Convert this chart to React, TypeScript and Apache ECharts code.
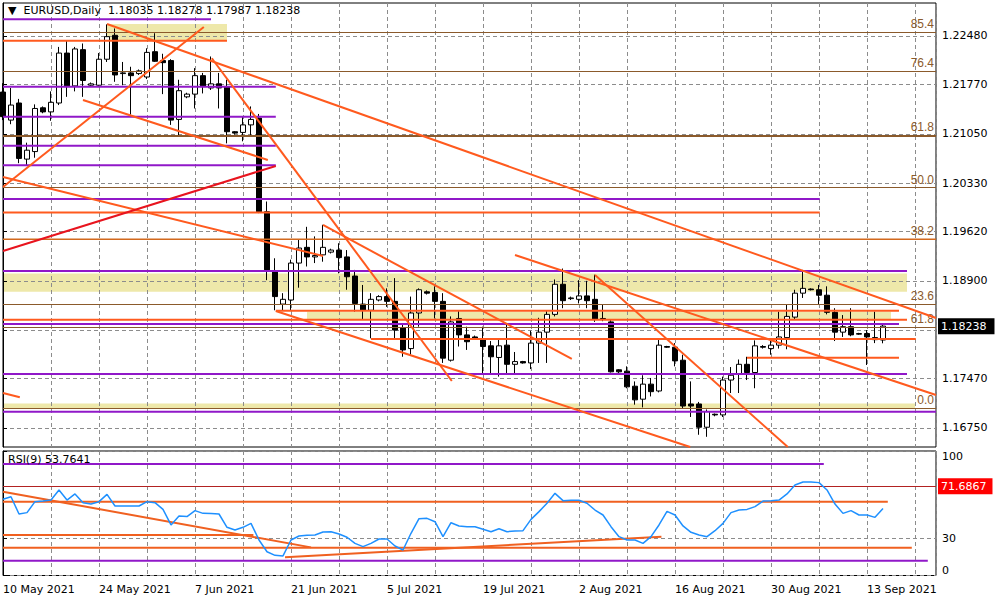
import React, { useEffect, useRef } from 'react';
import * as echarts from 'echarts';

// ---------- data (bar index 0 = 10 May 2021, six bars per week incl. Sunday) ----------
const opens = [
  1.2166, 1.2125, 1.2150, 1.2068, 1.2079, 1.2143, 1.2137, 1.2150, 1.2223, 1.2175,
  1.2228, 1.2176, 1.2176, 1.2214, 1.2249, 1.2193, 1.2194, 1.2193, 1.2188, 1.2225,
  1.2212, 1.2212, 1.2126, 1.2159, 1.2163, 1.2190, 1.2172, 1.2178, 1.2174, 1.2108,
  1.2107, 1.2118, 1.2128, 1.1991, 1.1903, 1.1856, 1.1862, 1.1916, 1.1939, 1.1925,
  1.1928, 1.1932, 1.1935, 1.1925, 1.1897, 1.1856, 1.1847, 1.1862, 1.1867, 1.1860,
  1.1821, 1.1791, 1.1843, 1.1874, 1.1873, 1.1860, 1.1774, 1.1835, 1.1811, 1.1808,
  1.1804, 1.1795, 1.1778, 1.1796, 1.1768, 1.1772, 1.1770, 1.1799, 1.1815, 1.1841,
  1.1885, 1.1864, 1.1863, 1.1868, 1.1863, 1.1834, 1.1830, 1.1760, 1.1758, 1.1736,
  1.1717, 1.1739, 1.1729, 1.1794, 1.1793, 1.1774, 1.1710, 1.1710, 1.1676, 1.1695,
  1.1694, 1.1745, 1.1754, 1.1768, 1.1756, 1.1794, 1.1791, 1.1796, 1.1807, 1.1837,
  1.1872, 1.1878, 1.1877, 1.1869, 1.1844, 1.1815, 1.1823, 1.1812, 1.1813, 1.1807,
  1.18035
];
const highs = [
  1.2179, 1.2172, 1.2156, 1.2092, 1.2148, 1.2145, 1.2167, 1.2232, 1.2242, 1.2232,
  1.2237, 1.2180, 1.2223, 1.2265, 1.2259, 1.2210, 1.2203, 1.2199, 1.2230, 1.2252,
  1.2222, 1.2214, 1.2184, 1.2165, 1.2201, 1.2194, 1.2218, 1.2194, 1.2184, 1.2109,
  1.2130, 1.2145, 1.2134, 1.2006, 1.1923, 1.1872, 1.1921, 1.1950, 1.1969, 1.1955,
  1.1972, 1.1937, 1.1945, 1.1935, 1.1906, 1.1884, 1.1872, 1.1869, 1.1879, 1.1894,
  1.1826, 1.1867, 1.1879, 1.1876, 1.1882, 1.1872, 1.1838, 1.1847, 1.1823, 1.1810,
  1.1823, 1.1802, 1.1804, 1.1828, 1.1786, 1.1773, 1.1817, 1.1836, 1.1846, 1.1892,
  1.1908, 1.1867, 1.1891, 1.1890, 1.1899, 1.1855, 1.1833, 1.1761, 1.1765, 1.1743,
  1.1752, 1.1748, 1.1804, 1.1795, 1.1799, 1.1782, 1.1743, 1.1713, 1.1702, 1.1696,
  1.1750, 1.1764, 1.1775, 1.1779, 1.1803, 1.1796, 1.1806, 1.1845, 1.1855, 1.1877,
  1.1906, 1.1879, 1.1884, 1.1882, 1.1850, 1.1840, 1.1850, 1.1814, 1.1818, 1.1845,
  1.18278
];
const lows = [
  1.2125, 1.2119, 1.2062, 1.2059, 1.2070, 1.2135, 1.2124, 1.2147, 1.2159, 1.2167,
  1.2159, 1.2174, 1.2175, 1.2210, 1.2181, 1.2176, 1.2133, 1.2191, 1.2185, 1.2210,
  1.2163, 1.2118, 1.2103, 1.2157, 1.2142, 1.2164, 1.2169, 1.2142, 1.2091, 1.2104,
  1.2094, 1.2101, 1.1989, 1.1891, 1.1847, 1.1847, 1.1847, 1.1880, 1.1911, 1.1916,
  1.1918, 1.1930, 1.1901, 1.1877, 1.1845, 1.1834, 1.1806, 1.1860, 1.1852, 1.1806,
  1.1779, 1.1782, 1.1823, 1.1870, 1.1835, 1.1770, 1.1772, 1.1794, 1.1789, 1.1804,
  1.1755, 1.1755, 1.1750, 1.1755, 1.1755, 1.1769, 1.1761, 1.1770, 1.1770, 1.1838,
  1.1850, 1.1862, 1.1857, 1.1850, 1.1830, 1.1831, 1.1756, 1.1755, 1.1733, 1.1709,
  1.1705, 1.1721, 1.1727, 1.1792, 1.1765, 1.1704, 1.1691, 1.1665, 1.1662, 1.1692,
  1.1691, 1.1726, 1.1726, 1.1745, 1.1733, 1.1791, 1.1782, 1.1791, 1.1790, 1.1833,
  1.1865, 1.1876, 1.1855, 1.1841, 1.1802, 1.1808, 1.1809, 1.1811, 1.1767, 1.1799,
  1.17987
];
const closes = [
  1.2130, 1.2147, 1.2069, 1.2081, 1.2142, 1.2137, 1.2151, 1.2223, 1.2175, 1.2229,
  1.2183, 1.2178, 1.2214, 1.2247, 1.2191, 1.2194, 1.2190, 1.2197, 1.2224, 1.2211,
  1.2209, 1.2125, 1.2168, 1.2163, 1.2190, 1.2174, 1.2178, 1.2172, 1.2108, 1.2106,
  1.2118, 1.2126, 1.1991, 1.1906, 1.1867, 1.1863, 1.1916, 1.1938, 1.1925, 1.1927,
  1.1939, 1.1935, 1.1924, 1.1896, 1.1857, 1.1847, 1.1863, 1.1867, 1.1860, 1.1818,
  1.1789, 1.1843, 1.1877, 1.1872, 1.1860, 1.1777, 1.1830, 1.1811, 1.1801, 1.1806,
  1.1794, 1.1779, 1.1795, 1.1768, 1.1772, 1.1770, 1.1799, 1.1815, 1.1841, 1.1885,
  1.1861, 1.1865, 1.1868, 1.1861, 1.1834, 1.1835, 1.1757, 1.1757, 1.1735, 1.1716,
  1.1739, 1.1728, 1.1796, 1.1793, 1.1773, 1.1707, 1.1707, 1.1676, 1.1699, 1.1694,
  1.1745, 1.1752, 1.1768, 1.1756, 1.1795, 1.1793, 1.1796, 1.1808, 1.1838, 1.1872,
  1.1879, 1.1877, 1.1869, 1.1844, 1.1815, 1.1823, 1.1811, 1.1813, 1.1808, 1.1804,
  1.18238
];
const rsiValues = [
  61.2, 63.3, 49.4, 50.5, 59.3, 59.8, 60.6, 68.7, 60.6, 65.5,
  58.5, 57.4, 59.3, 65.2, 55.8, 55.8, 55.8, 55.8, 59.3, 58.5,
  53.1, 40.6, 47.8, 47.3, 52.1, 49.9, 49.7, 49.4, 38.7, 36.5,
  38.7, 41.9, 28.5, 19.1, 16.2, 15.7, 28.5, 31.7, 32.3, 32.5,
  34.9, 35.2, 33.3, 30.7, 25.8, 23.2, 25.8, 29.3, 29.3, 23.7,
  20.5, 33.9, 45.6, 45.9, 43.2, 31.2, 42.4, 39.8, 39.2, 39.2,
  37.1, 35.2, 37.6, 35.2, 35.7, 36.0, 45.1, 51.3, 58.0, 66.0,
  60.1, 60.4, 60.4, 58.0, 52.6, 48.6, 39.2, 31.2, 28.5, 28.5,
  25.8, 31.2, 40.6, 51.5, 48.6, 39.8, 34.7, 32.5, 31.2, 36.0,
  41.9, 50.5, 52.6, 53.1, 55.3, 59.8, 60.1, 60.6, 65.5, 72.7,
  75.1, 75.1, 74.6, 68.7, 57.4, 49.9, 52.1, 48.6, 48.6, 46.7,
  53.7641
];
const dateLabels = ['10 May 2021', '24 May 2021', '7 Jun 2021', '21 Jun 2021', '5 Jul 2021',
  '19 Jul 2021', '2 Aug 2021', '16 Aug 2021', '30 Aug 2021', '13 Sep 2021'];
const priceTicks = [1.1675, 1.1747, 1.1818, 1.189, 1.1962, 1.2033, 1.2105, 1.2177, 1.2248];
const rsiTicks = [0, 30, 100];
const rsiMarkLevel = 71.6867;

const fiboLabels = ['85.4', '76.4', '61.8', '50.0', '38.2', '23.6', '0.0', '61.8'];
const fiboPrices = [1.22534, 1.21968, 1.21028, 1.20262, 1.19508, 1.18562, 1.17037, 1.18221];

// horizontal levels: [price, fromBar, toBar]
const purpleLevels = [
  [1.22724, 0, 26], [1.21739, 0, 34.1], [1.2130, 0, 34.1], [1.20876, 0, 34.1], [1.2059, 0, 34.1],
  [1.20097, 0, 102.1], [1.19044, 0, 113], [1.18269, 0, 112], [1.17538, 0, 113], [1.16987, 0, 116.625]
];
const orangeLevels = [
  [1.22411, 0, 28], [1.1990, 0, 102.1], [1.18464, 34.1, 112], [1.18332, 0, 113],
  [1.1805, 46, 114.1], [1.17777, 93, 112]
];
const siennaLevels = [[1.19508, 0, 116.625]];
// trend lines: [bar1, price1, bar2, price2]
const orangeTrends = [
  [0, 1.20272, 25.1, 1.22612], [13, 1.22655, 116.625, 1.18357], [26.1, 1.22154, 56.1, 1.17436],
  [10, 1.21544, 33.1, 1.20667], [0, 1.20419, 40, 1.19264], [40, 1.19717, 71.1, 1.17758],
  [74, 1.18986, 98.1, 1.16471], [64, 1.19278, 116.625, 1.17231], [34.1, 1.18460, 85.9, 1.16471],
  [0, 1.17261, 2.1, 1.17198]
];
const redTrends = [[0, 1.19337, 34.1, 1.20579]];
// yellow zones: [bar1, price1, bar2, price2]
const bandZones = [
  [13, 1.22655, 28, 1.22421], [0, 1.19008, 113, 1.18742], [38, 1.1845, 111, 1.18328], [0, 1.17107, 114, 1.17037]
];
// RSI window levels
const rsiPurpleLevels = [[89.6, 0, 102.6], [11.9, 0, 115.6]];
const rsiOrangeLevels = [[59.3, 0, 110.6], [32.5, 0, 31.3], [22.3, 0, 113.6]];
const rsiTrends = [[0, 67.3, 38.5, 22.6], [35.25, 14.6, 82.3, 31.2]];

// ---------- styling ----------
const FONT = 'DejaVu Sans';
const X_MAX = 116.625;
const ORANGE = '#FF5A1E';
const PURPLE = '#9018C8';
const RED = '#E8141E';
const BROWN = '#8B5A2B';
const GRIDC = '#8c8c8c';

function common(z: number) {
  return {
    type: 'line', symbol: 'none', showSymbol: false, silent: true, clip: true, z,
    emphasis: { disabled: true }, animation: false,
  };
}
function hSeg(l: number[], color: string, width: number, axis: number, z = 4) {
  return { ...common(z), xAxisIndex: axis, yAxisIndex: axis, data: [[l[1], l[0]], [l[2], l[0]]], lineStyle: { color, width } };
}
function tSeg(t: number[], color: string, width: number, axis: number, z = 4) {
  return { ...common(z), xAxisIndex: axis, yAxisIndex: axis, data: [[t[0], t[1]], [t[2], t[3]]], lineStyle: { color, width } };
}

function buildOption() {
  const last = closes.length - 1;
  const fmt = (v: number) => v.toFixed(5);
  const series: any[] = [];

  // yellow zones
  series.push({
    ...common(1), xAxisIndex: 0, yAxisIndex: 0, data: [[0, priceTicks[0]], [1, priceTicks[0]]],
    lineStyle: { opacity: 0 },
    markArea: {
      silent: true, z: -1,
      itemStyle: { color: '#EEE8AA', opacity: 1 },
      data: bandZones.map((b) => [{ coord: [b[0], b[1]] }, { coord: [b[2], b[3]] }]),
    },
  });

  // fibonacci levels
  series.push({
    ...common(3), xAxisIndex: 0, yAxisIndex: 0, data: [[0, priceTicks[0]], [1, priceTicks[0]]],
    lineStyle: { opacity: 0 },
    markLine: {
      silent: true, symbol: ['none', 'none'], z: 3, animation: false, precision: 6,
      data: fiboPrices.map((p, k) => ({
        yAxis: p,
        lineStyle: { color: BROWN, width: k === 2 ? 2 : 1, type: 'solid' },
        label: { show: true, position: 'insideEndTop', formatter: fiboLabels[k], color: '#8B5A2B', fontSize: 12, fontFamily: 'Liberation Sans', distance: 2 },
      })),
    },
  });

  // current price tag
  series.push({
    ...common(6), xAxisIndex: 0, yAxisIndex: 0, data: [[0, priceTicks[0]], [1, priceTicks[0]]],
    lineStyle: { color: 'rgba(0,0,0,0)', width: 0 },
    markLine: {
      silent: true, symbol: ['none', 'none'], z: 10, animation: false, precision: 6,
      data: [{
        yAxis: closes[last],
        lineStyle: { color: 'rgba(0,0,0,0)', width: 1, type: 'solid' },
        label: { show: true, position: 'end', formatter: fmt(closes[last]), backgroundColor: '#000', color: '#fff', padding: [3, 8, 2, 3], fontSize: 11, fontFamily: FONT, distance: 2 },
      }],
    },
  });

  series.push({
    type: 'candlestick', xAxisIndex: 0, yAxisIndex: 0, z: 2, silent: true,
    data: opens.map((o, i) => [i, o, closes[i], lows[i], highs[i]]),
    encode: { x: 0, y: [1, 2, 3, 4] },
    barWidth: 5,
    itemStyle: { color: '#ffffff', color0: '#000000', borderColor: '#000000', borderColor0: '#000000', borderWidth: 1 },
  });

  siennaLevels.forEach((l) => series.push(hSeg(l, '#D2691E', 1.5, 0, 3)));
  purpleLevels.forEach((l) => series.push(hSeg(l, PURPLE, 2, 0)));
  orangeLevels.forEach((l) => series.push(hSeg(l, ORANGE, 2, 0)));
  orangeTrends.forEach((t) => series.push(tSeg(t, ORANGE, 2, 0)));
  redTrends.forEach((t) => series.push(tSeg(t, RED, 2, 0)));

  // RSI window
  rsiPurpleLevels.forEach((l) => series.push(hSeg(l, PURPLE, 2, 1)));
  rsiOrangeLevels.forEach((l) => series.push(hSeg(l, '#F06020', 2, 1)));
  rsiTrends.forEach((t) => series.push(tSeg(t, '#F06020', 2, 1)));
  series.push({
    ...common(5), xAxisIndex: 1, yAxisIndex: 1,
    data: rsiValues.map((v, i) => [i, v]),
    lineStyle: { color: '#1E90FF', width: 1.5 },
    markLine: {
      silent: true, symbol: ['none', 'none'], animation: false, precision: 6,
      data: [{
        yAxis: rsiMarkLevel,
        lineStyle: { color: '#B22222', width: 1, type: 'solid' },
        label: { show: true, position: 'end', formatter: String(rsiMarkLevel), backgroundColor: '#FF0000', color: '#fff', padding: [3, 6, 2, 3], fontSize: 11, fontFamily: FONT, distance: 2 },
      }],
    },
  });

  const xCommon = {
    type: 'value', min: 0, max: X_MAX, interval: 6,
    axisLine: { show: false }, axisTick: { show: false },
    splitLine: { show: true, lineStyle: { color: GRIDC, type: [4, 3], width: 1 } },
  };

  return {
    animation: false,
    backgroundColor: '#ffffff',
    grid: [
      { left: 3, right: 64, top: 3, height: 444, show: true, borderColor: '#000', borderWidth: 1, backgroundColor: 'transparent' },
      { left: 3, right: 64, top: 451, height: 124.5, show: true, borderColor: '#000', borderWidth: 1, backgroundColor: 'transparent' },
    ],
    xAxis: [
      { ...xCommon, gridIndex: 0, axisLabel: { show: false } },
      {
        ...xCommon, gridIndex: 1,
        axisLabel: {
          show: true, align: 'left', margin: 8, color: '#000', fontSize: 11, fontFamily: FONT,
          showMinLabel: true, showMaxLabel: true,
          formatter: (v: number) => {
            const k = v / 12;
            return Math.abs(k - Math.round(k)) < 1e-6 ? (dateLabels[Math.round(k)] ?? '') : '';
          },
        },
      },
    ],
    yAxis: [
      {
        gridIndex: 0, type: 'value', position: 'right', min: 1.16471, max: 1.22962,
        axisLine: { show: true, lineStyle: { color: '#000' } },
        axisTick: { show: true, customValues: priceTicks, length: 4, lineStyle: { color: '#000' } },
        axisLabel: { customValues: priceTicks, formatter: (v: number) => v.toFixed(5), color: '#000', fontSize: 11, fontFamily: FONT, margin: 6 },
        splitLine: { show: true, lineStyle: { color: GRIDC, type: [4, 3], width: 1 } },
      },
      {
        gridIndex: 1, type: 'value', position: 'right', min: 0, max: 100,
        axisLine: { show: true, lineStyle: { color: '#000' } },
        axisTick: { show: true, customValues: rsiTicks, length: 4, lineStyle: { color: '#000' } },
        axisLabel: {
          customValues: rsiTicks, color: '#000', fontSize: 11, fontFamily: FONT, margin: 6,
          showMinLabel: true, showMaxLabel: true,
          verticalAlignMaxLabel: 'top', verticalAlignMinLabel: 'bottom',
        },
        splitLine: { show: true, lineStyle: { color: GRIDC, type: [4, 3], width: 1 } },
      },
    ],
    graphic: [
      {
        type: 'text', left: 8, top: 5, z: 100,
        style: {
          text: `\u25BC  EURUSD,Daily  ${fmt(opens[last])} ${fmt(highs[last])} ${fmt(lows[last])} ${fmt(closes[last])}`,
          fontSize: 11, fontFamily: FONT, fill: '#000',
        },
      },
      {
        type: 'text', left: 8, top: 454, z: 100,
        style: { text: `RSI(9) ${rsiValues[last].toFixed(4)}`, fontSize: 11, fontFamily: FONT, fill: '#000' },
      },
    ],
    series,
  };
}

export default function App() {
  const ref = useRef<HTMLDivElement>(null);
  useEffect(() => {
    const chart = echarts.init(ref.current as HTMLDivElement, null, { renderer: 'svg' });
    chart.setOption(buildOption() as any);
    return () => chart.dispose();
  }, []);
  return (
    <div
      ref={ref}
      style={{ position: 'fixed', left: 0, top: 0, width: 1000, height: 600, background: '#fff' }}
    />
  );
}
